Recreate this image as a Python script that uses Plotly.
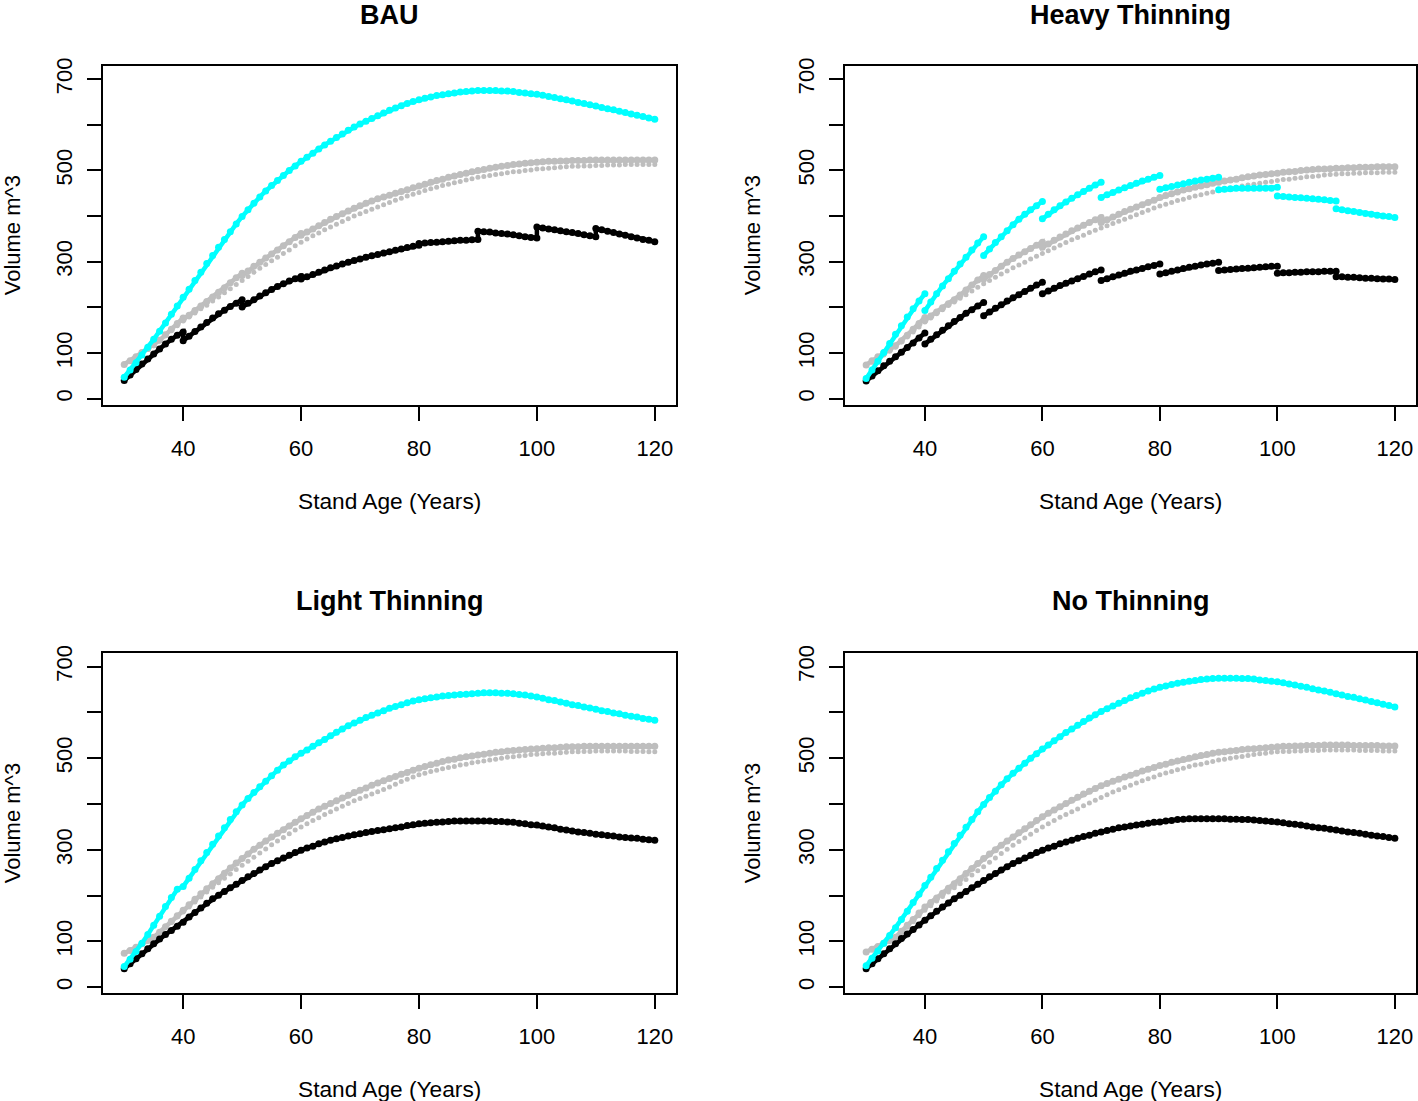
import plotly.graph_objects as go

# ---------------- data ----------------
ages = list(range(30, 121))

bau_cyan = [47, 63, 79, 96, 113, 130, 148, 166, 185, 203,
            222, 240, 259, 277, 296, 314, 332, 349, 366, 383,
            399, 414, 428, 442, 455, 467, 478, 489, 500, 510,
            520, 529, 538, 547, 556, 564, 572, 580, 588, 595,
            602, 608, 614, 620, 626, 632, 637, 642, 647, 651,
            655, 658, 661, 664, 666, 668, 670, 672, 673, 674,
            675, 675, 675, 675, 674, 674, 673, 671, 670, 668,
            667, 665, 662, 660, 657, 655, 652, 649, 647, 644,
            641, 638, 635, 633, 630, 627, 624, 621, 618, 615, 612]
bau_gray = [75, 83, 92, 101, 110, 118, 128, 140, 152, 165,
            174, 183, 193, 203, 213, 223, 233, 243, 254, 265,
            270, 280, 290, 299, 308, 317, 326, 335, 344, 353,
            358, 365, 372, 379, 386, 393, 399, 405, 411, 417,
            423, 428, 433, 438, 442, 446, 450, 454, 458, 462,
            466, 470, 474, 478, 481, 485, 488, 491, 494, 497,
            500, 502, 505, 507, 509, 511, 513, 514, 516, 517,
            518, 519, 520, 520, 521, 521, 522, 522, 522, 523,
            523, 523, 523, 523, 523, 523, 523, 523, 523, 523, 523]
bau_gray_cut_years = [40, 50, 60]
bau_gray_pre = [177, 275, 362]
bau_gray_dot = [75, 83, 91, 100, 108, 116, 127, 138, 149, 160,
                170, 179, 188, 197, 205, 214, 223, 232, 241, 250,
                259, 268, 277, 286, 294, 302, 310, 318, 326, 335,
                343, 350, 357, 363, 370, 376, 382, 388, 394, 400,
                405, 410, 415, 420, 425, 430, 435, 439, 444, 448,
                452, 456, 460, 463, 467, 470, 473, 476, 479, 482,
                485, 487, 489, 491, 493, 495, 497, 498, 500, 501,
                503, 504, 505, 506, 507, 508, 509, 509, 510, 510,
                511, 511, 512, 512, 512, 513, 513, 513, 513, 513, 513]
bau_black = [40, 52, 64, 76, 87, 98, 109, 120, 130, 139,
             127, 137, 147, 157, 167, 177, 186, 194, 202, 209,
             201, 209, 217, 225, 232, 239, 246, 252, 258, 263,
             262, 267, 272, 277, 282, 287, 291, 295, 299, 303,
             306, 310, 313, 316, 319, 322, 325, 328, 331, 334,
             340, 341, 342, 343, 344, 345, 346, 347, 347, 348,
             367, 366, 365, 363, 362, 361, 359, 357, 355, 353,
             376, 374, 372, 370, 368, 366, 364, 362, 359, 357,
             373, 370, 367, 364, 361, 358, 355, 352, 349, 347, 344]
bau_black_cut_years = [40, 50, 60, 80, 90, 100, 110]
bau_black_pre = [146, 217, 268, 336, 349, 352, 355]

heavy_cyan = [44, 63, 82, 101, 121, 141, 160, 179, 197, 214,
              193, 212, 230, 247, 263, 279, 295, 310, 326, 341,
              314, 328, 342, 355, 368, 381, 393, 404, 414, 423,
              394, 404, 414, 423, 431, 439, 447, 454, 461, 468,
              441, 447, 452, 457, 462, 467, 472, 477, 481, 485,
              459, 462, 465, 468, 471, 474, 477, 479, 481, 483,
              458, 459, 460, 461, 461, 461, 461, 461, 461, 461,
              444, 443, 442, 441, 440, 439, 438, 437, 436, 434,
              416, 414, 412, 410, 408, 406, 404, 402, 400, 399, 397]
heavy_cut_years = [40, 50, 60, 70, 80, 90, 100, 110]
heavy_cyan_pre = [230, 355, 432, 474, 489, 485, 463, 433]
heavy_black = [39, 50, 61, 72, 82, 92, 102, 112, 122, 133,
               120, 130, 140, 150, 160, 169, 178, 187, 195, 203,
               182, 190, 198, 206, 214, 221, 228, 235, 242, 249,
               230, 236, 242, 248, 253, 258, 263, 268, 273, 278,
               259, 263, 267, 271, 275, 279, 282, 285, 289, 292,
               273, 276, 279, 282, 285, 288, 290, 293, 295, 297,
               281, 282, 283, 284, 285, 286, 287, 288, 289, 290,
               275, 276, 276, 277, 277, 278, 278, 278, 279, 279,
               267, 267, 266, 266, 265, 264, 264, 263, 262, 262, 261]
heavy_black_pre = [144, 211, 255, 282, 295, 299, 290, 279]
heavy_gray = [74, 83, 92, 100, 108, 116, 127, 139, 152, 165,
              172, 181, 190, 199, 208, 217, 227, 238, 249, 260,
              262, 272, 281, 290, 299, 307, 315, 322, 329, 336,
              332, 339, 347, 354, 361, 368, 374, 380, 386, 392,
              386, 392, 398, 404, 410, 415, 420, 425, 430, 435,
              441, 445, 449, 453, 457, 460, 463, 466, 469, 472,
              474, 477, 479, 481, 484, 486, 488, 490, 491, 493,
              494, 496, 497, 498, 500, 501, 502, 503, 503, 504,
              505, 505, 506, 506, 507, 507, 507, 508, 508, 508, 508]
heavy_gray_cut_years = [40, 50, 60, 70]
heavy_gray_pre = [178, 270, 343, 397]
heavy_gray_dot = [74, 80, 87, 96, 104, 113, 124, 135, 146, 157,
                  168, 177, 186, 195, 204, 212, 220, 228, 236, 244,
                  252, 259, 266, 273, 280, 287, 293, 299, 306, 312,
                  318, 324, 330, 336, 342, 348, 353, 358, 364, 369,
                  374, 379, 384, 389, 393, 398, 403, 408, 413, 418,
                  422, 426, 430, 434, 437, 441, 444, 447, 450, 453,
                  456, 458, 461, 463, 466, 468, 470, 472, 474, 476,
                  478, 480, 481, 483, 484, 486, 487, 488, 490, 491,
                  492, 493, 493, 494, 494, 495, 495, 495, 496, 496, 496]

light_cyan = [45, 61, 78, 96, 115, 135, 155, 176, 196, 214,
              220, 238, 257, 276, 294, 312, 330, 348, 366, 383,
              398, 412, 425, 438, 450, 462, 474, 485, 494, 503,
              511, 518, 526, 534, 541, 549, 557, 564, 571, 577,
              583, 589, 594, 599, 604, 609, 613, 617, 621, 625,
              628, 630, 632, 634, 636, 637, 638, 639, 640, 641,
              642, 643, 643, 643, 642, 642, 641, 639, 638, 636,
              634, 631, 628, 626, 623, 620, 617, 615, 612, 610,
              607, 604, 602, 599, 597, 594, 592, 590, 587, 585, 583]
light_gray = [74, 80, 87, 95, 102, 109, 120, 132, 144, 156,
              168, 180, 192, 204, 215, 226, 237, 249, 260, 271,
              281, 291, 301, 310, 319, 328, 336, 344, 352, 360,
              368, 375, 382, 389, 395, 401, 407, 413, 419, 425,
              430, 435, 441, 446, 451, 456, 460, 465, 469, 474,
              478, 482, 486, 489, 493, 496, 498, 501, 503, 505,
              507, 509, 511, 513, 514, 516, 517, 518, 519, 520,
              521, 522, 523, 523, 524, 525, 525, 525, 526, 526,
              526, 526, 526, 526, 526, 526, 526, 526, 526, 526, 526]
light_gray_dot = [74, 80, 87, 94, 101, 108, 119, 130, 141, 153,
                  164, 175, 186, 197, 208, 218, 228, 238, 247, 257,
                  266, 275, 284, 293, 302, 311, 319, 327, 335, 343,
                  350, 357, 364, 370, 377, 383, 389, 395, 401, 407,
                  412, 417, 422, 427, 432, 437, 443, 449, 454, 459,
                  464, 467, 471, 474, 477, 480, 482, 485, 487, 490,
                  492, 494, 496, 498, 500, 502, 503, 505, 506, 508,
                  509, 510, 511, 511, 512, 513, 514, 514, 515, 515,
                  516, 516, 516, 516, 516, 516, 515, 515, 515, 514, 514]
light_black = [40, 51, 62, 73, 84, 95, 105, 115, 124, 133,
               142, 153, 163, 173, 183, 193, 201, 209, 217, 225,
               233, 241, 248, 256, 263, 270, 276, 282, 288, 294,
               299, 304, 308, 313, 317, 321, 324, 327, 330, 333,
               335, 338, 340, 342, 344, 346, 348, 350, 353, 355,
               357, 358, 359, 360, 361, 362, 363, 363, 363, 363,
               363, 363, 363, 362, 362, 361, 360, 358, 357, 355,
               354, 352, 350, 348, 345, 343, 341, 339, 338, 336,
               334, 333, 331, 330, 328, 327, 326, 325, 323, 322, 321]

nt_cyan = bau_cyan
nt_gray = [77, 83, 89, 96, 102, 109, 122, 135, 148, 162,
           175, 185, 195, 205, 216, 226, 237, 248, 259, 270,
           281, 291, 300, 310, 319, 328, 337, 346, 355, 364,
           372, 380, 387, 394, 401, 408, 415, 422, 428, 434,
           440, 445, 450, 454, 459, 463, 467, 472, 476, 480,
           484, 487, 491, 494, 497, 500, 503, 506, 508, 511,
           513, 514, 516, 517, 519, 520, 521, 522, 523, 524,
           525, 526, 526, 527, 527, 528, 528, 528, 529, 529,
           529, 529, 529, 528, 528, 528, 528, 528, 527, 527, 527]
nt_gray_dot = [77, 82, 88, 94, 100, 107, 119, 131, 143, 156,
               168, 178, 188, 198, 208, 217, 226, 235, 245, 254,
               263, 273, 282, 292, 301, 310, 318, 326, 334, 342,
               350, 357, 364, 371, 377, 383, 389, 396, 402, 408,
               414, 420, 426, 431, 436, 441, 446, 451, 455, 459,
               464, 468, 471, 475, 478, 482, 485, 487, 490, 493,
               496, 498, 500, 502, 504, 506, 508, 510, 511, 513,
               514, 515, 515, 516, 516, 517, 517, 517, 518, 518,
               518, 518, 518, 518, 517, 517, 517, 517, 516, 516, 516]
nt_black = [40, 51, 62, 73, 84, 95, 106, 116, 126, 136,
            146, 156, 166, 175, 184, 193, 201, 209, 217, 225,
            233, 241, 248, 256, 263, 270, 276, 282, 288, 294,
            299, 304, 308, 313, 317, 321, 325, 329, 332, 336,
            339, 342, 345, 348, 350, 352, 354, 356, 358, 360,
            361, 363, 364, 366, 367, 368, 368, 368, 368, 368,
            368, 368, 367, 367, 366, 366, 365, 364, 363, 362,
            361, 359, 357, 356, 354, 352, 350, 348, 347, 345,
            343, 341, 339, 338, 336, 334, 332, 330, 329, 327, 325]

panel_titles = ["BAU", "Heavy Thinning", "Light Thinning", "No Thinning"]
x_ticks = [40, 60, 80, 100, 120]
y_ticks = [0, 100, 200, 300, 400, 500, 600, 700]
y_tick_text = ["0", "100", "", "300", "", "500", "", "700"]
x_title = "Stand Age (Years)"
y_title = "Volume m^3"

# ---------------- helpers ----------------
CYAN = "#00FFFF"
GRAY = "#BEBEBE"
BLACK = "#000000"


def series(vals, cut_years=None, pre=None, gap=False):
    pre_map = dict(zip(cut_years or [], pre or []))
    xs, ys = [], []
    for a, v in zip(ages, vals):
        if a in pre_map:
            xs.append(a)
            ys.append(pre_map[a])
            if gap:
                xs.append(None)
                ys.append(None)
        xs.append(a)
        ys.append(v)
    return xs, ys


panels = [
    dict(gray_dot=bau_gray_dot,
         gray=series(bau_gray, bau_gray_cut_years, bau_gray_pre),
         black=series(bau_black, bau_black_cut_years, bau_black_pre),
         cyan=series(bau_cyan)),
    dict(gray_dot=heavy_gray_dot,
         gray=series(heavy_gray, heavy_gray_cut_years, heavy_gray_pre),
         black=series(heavy_black, heavy_cut_years, heavy_black_pre, gap=True),
         cyan=series(heavy_cyan, heavy_cut_years, heavy_cyan_pre, gap=True)),
    dict(gray_dot=light_gray_dot,
         gray=series(light_gray),
         black=series(light_black),
         cyan=series(light_cyan)),
    dict(gray_dot=nt_gray_dot,
         gray=series(nt_gray),
         black=series(nt_black),
         cyan=series(nt_cyan)),
]

fig = go.Figure()
for i, p in enumerate(panels):
    ax = "" if i == 0 else str(i + 1)
    xr, yr = "x" + ax, "y" + ax
    fig.add_trace(go.Scatter(x=ages, y=p["gray_dot"], mode="markers",
                             marker=dict(color=GRAY, size=5),
                             xaxis=xr, yaxis=yr, showlegend=False,
                             hoverinfo="skip"))
    for key, col in (("gray", GRAY), ("black", BLACK), ("cyan", CYAN)):
        xs, ys = p[key]
        fig.add_trace(go.Scatter(x=xs, y=ys, mode="lines+markers",
                                 line=dict(color=col, width=4.5),
                                 marker=dict(color=col, size=7),
                                 connectgaps=False, hoverinfo="skip",
                                 xaxis=xr, yaxis=yr, showlegend=False))

W, H = 1418, 1101
TOP_SHIFT = 7  # the page renders ~7 px lower than requested


def py(t):
    """Paper fraction for a target pixel row t (from the top)."""
    p = (t - TOP_SHIFT) * H / (H - TOP_SHIFT)
    return 1 - p / H


x_doms = [(103 / W, 676 / W), (845 / W, 1416 / W)]
y_doms = [(py(404), py(65)), (py(993), py(653))]
FONT = "Liberation Sans, Arial, sans-serif"

layout = dict(width=W, height=H, margin=dict(l=0, r=0, t=0, b=0),
              paper_bgcolor="white", plot_bgcolor="white",
              font=dict(family=FONT, size=22, color="black"))
annotations = []
for i in range(4):
    col, row = i % 2, i // 2
    ax = "" if i == 0 else str(i + 1)
    layout["xaxis" + ax] = dict(
        domain=x_doms[col], anchor="y" + ax, range=[26.4, 123.6],
        tickvals=x_ticks, ticks="outside", ticklen=14, tickwidth=2,
        tickcolor="black", showline=True, linecolor="black", linewidth=2,
        mirror=True, showgrid=False, zeroline=False,
        ticklabelstandoff=9, tickfont=dict(size=22))
    layout["yaxis" + ax] = dict(
        domain=y_doms[row], anchor="x" + ax, range=[-13, 729],
        tickvals=y_ticks, ticktext=y_tick_text, ticks="outside",
        ticklen=14, tickwidth=2, tickcolor="black", showline=True,
        linecolor="black", linewidth=2, mirror=True, showgrid=False,
        zeroline=False, tickangle=-90, ticklabelstandoff=6,
        tickfont=dict(size=22))
    xc = (x_doms[col][0] + x_doms[col][1]) / 2
    yc = (y_doms[row][0] + y_doms[row][1]) / 2
    title_y = py([14, 601][row])
    xlab_y = py([500, 1089][row])
    ylab_x = [12 / W, 752 / W][col]
    annotations.append(dict(text="<b>%s</b>" % panel_titles[i], x=xc, y=title_y,
                            xref="paper", yref="paper", showarrow=False,
                            xanchor="center", yanchor="middle",
                            font=dict(size=27)))
    annotations.append(dict(text=x_title, x=xc, y=xlab_y, xref="paper",
                            yref="paper", showarrow=False, xanchor="center",
                            yanchor="middle", font=dict(size=22.7)))
    annotations.append(dict(text=y_title, x=ylab_x, y=yc, xref="paper",
                            yref="paper", showarrow=False, textangle=-90,
                            xanchor="center", yanchor="middle",
                            font=dict(size=22)))
layout["annotations"] = annotations
fig.update_layout(**layout)
fig.write_html("out.html", config={"displayModeBar": False},
               post_script="document.body.style.margin='0px';"
                           "document.body.style.overflow='hidden';")
